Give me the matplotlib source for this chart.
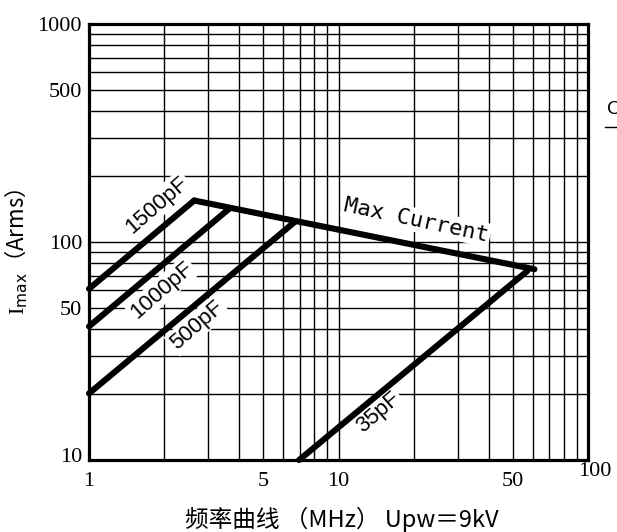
import matplotlib
matplotlib.use('Agg')
import matplotlib.pyplot as plt
import matplotlib.transforms as mtransforms
from matplotlib.lines import Line2D
from matplotlib.ticker import LogLocator, NullFormatter

plt.rcParams['mathtext.fontset'] = 'custom'
plt.rcParams['mathtext.rm'] = 'Liberation Serif'
plt.rcParams['mathtext.sf'] = 'DejaVu Sans'

# ---------------------------------------------------------------- data ---
# frequency (MHz) / current (Arms) end points
c1500_f = [1, 2.64]
c1500_i = [61, 155]
c1000_f = [1, 3.67]
c1000_i = [41, 143]
c500_f = [1, 6.7]
c500_i = [20.2, 124]
c35_f = [6.95, 57]
c35_i = [10, 73.5]
maxcur_f = [2.64, 61]
maxcur_i = [155, 75]

x_ticks = [1, 5, 10, 50, 100]
x_ticklabels = ['1', '5', '10', '50', '100']
y_ticks = [10, 50, 100, 500, 1000]
y_ticklabels = ['10', '50', '100', '500', '1000']

# label text, position (MHz, A), rotation
line_labels = [('1500pF', 1.87, 148, 41),
               ('1000pF', 1.96, 60, 41),
               ('500pF', 2.71, 41.6, 41),
               ('35pF', 14.4, 16.6, 41)]

# ---------------------------------------------------------------- plot ---
fig = plt.figure(figsize=(6.17, 5.32), dpi=100)
ax = fig.add_axes([89 / 617, 1 - 460 / 532, 499 / 617, 436 / 532])
ax.set_xscale('log')
ax.set_yscale('log')
ax.set_xlim(1, 100)
ax.set_ylim(10, 1000)

ax.xaxis.set_minor_locator(LogLocator(base=10, subs=range(2, 10)))
ax.yaxis.set_minor_locator(LogLocator(base=10, subs=range(2, 10)))
ax.xaxis.set_minor_formatter(NullFormatter())
ax.yaxis.set_minor_formatter(NullFormatter())
ax.grid(True, which='both', color='black', linewidth=1.0)
ax.set_axisbelow(True)

ax.set_xticks(x_ticks, x_ticklabels)
ax.set_yticks(y_ticks, y_ticklabels)
ax.tick_params(which='both', length=0, labelsize=16,
               labelfontfamily='Liberation Serif')
ax.tick_params(axis='x', pad=9)
ax.tick_params(axis='y', pad=5)

for sp in ax.spines.values():
    sp.set_linewidth(2.3)

# nudge the "100" and "10" tick labels like in the original
lab = ax.get_xticklabels()[-1]
lab.set_transform(lab.get_transform() +
                  mtransforms.ScaledTranslation(0.07, 0.10, fig.dpi_scale_trans))
lab = ax.get_yticklabels()[0]
lab.set_transform(lab.get_transform() +
                  mtransforms.ScaledTranslation(0, 0.05, fig.dpi_scale_trans))

lw = 4.4
for f, i in [(c1500_f, c1500_i), (c1000_f, c1000_i), (c500_f, c500_i),
             (c35_f, c35_i), (maxcur_f, maxcur_i)]:
    ax.plot(f, i, color='black', linewidth=lw, solid_capstyle='round',
            clip_on=False, zorder=4)

for txt, x, y, rot in line_labels:
    ax.text(x, y, txt, rotation=rot, rotation_mode='anchor', ha='center',
            va='center', family='Liberation Sans', fontsize=16, zorder=3,
            bbox=dict(fc='white', ec='none', pad=1.5))

ax.text(20.5, 126, 'Max Current', rotation=-12, rotation_mode='anchor',
        ha='center', va='center', family='DejaVu Sans Mono', fontsize=16,
        zorder=3, bbox=dict(fc='white', ec='none', pad=1.5))

ax.set_ylabel(r'$\mathrm{I}_{\mathsf{max}}$（Arms）',
              family=['Noto Sans CJK SC', 'DejaVu Sans'], fontsize=16)
ax.yaxis.set_label_coords(-0.118, 0.477)
ax.set_xlabel('频率曲线 （MHz） Upw＝9kV',
              family=['Noto Sans CJK SC', 'DejaVu Sans'], fontsize=17)
ax.xaxis.set_label_coords(0.507, -0.108)

# clipped fragment at the right edge of the original picture
fig.text(607 / 617, 1 - 110 / 532, 'C', family='Liberation Sans',
         fontsize=14, ha='left', va='center')
fig.add_artist(Line2D([605 / 617, 1.0], [1 - 127 / 532, 1 - 127 / 532],
                      color='black', linewidth=1))

fig.savefig('out.png', dpi=100)
